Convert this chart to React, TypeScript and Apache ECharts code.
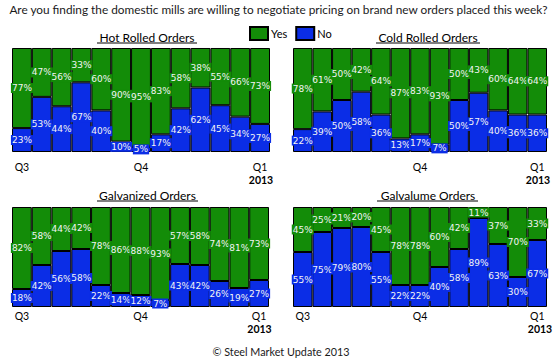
import React, { useEffect, useRef } from "react";
import * as echarts from "echarts";

const weeks = ["W1", "W2", "W3", "W4", "W5", "W6", "W7", "W8", "W9", "W10", "W11", "W12", "W13"];
const ticksFull = ["Q3", "", "", "", "", "", "Q4", "", "", "", "", "", "Q1"];
const ticksNoQ3 = ["", "", "", "", "", "", "Q4", "", "", "", "", "", "Q1"];

const hotYes = [77, 47, 56, 33, 60, 90, 95, 83, 58, 38, 55, 66, 73];
const hotNo = [23, 53, 44, 67, 40, 10, 5, 17, 42, 62, 45, 34, 27];
const coldYes = [78, 61, 50, 42, 64, 87, 83, 93, 50, 43, 60, 64, 64];
const coldNo = [22, 39, 50, 58, 36, 13, 17, 7, 50, 57, 40, 36, 36];
const galvYes = [82, 58, 44, 42, 78, 86, 88, 93, 57, 58, 74, 81, 73];
const galvNo = [18, 42, 56, 58, 22, 14, 12, 7, 43, 42, 26, 19, 27];
const galvalumeYes = [45, 25, 21, 20, 45, 78, 78, 60, 42, 11, 37, 70, 33];
const galvalumeNo = [55, 75, 79, 80, 55, 22, 22, 40, 58, 89, 63, 30, 67];

const GREEN = "#138c08";
const BLUE = "#0b2de6";
const FONT = "Lato";

const panels = [
  { title: "Hot Rolled Orders", yes: hotYes, no: hotNo, ticks: ticksFull, grid: { left: 12, top: 48, width: 258, height: 104 }, margin: 9, cx: 147, ty: 37, ul: [97, 197, 43], yr: [261, 180] },
  { title: "Cold Rolled Orders", yes: coldYes, no: coldNo, ticks: ticksNoQ3, grid: { left: 293, top: 48, width: 254, height: 104 }, margin: 9, cx: 428, ty: 37, ul: [376, 480, 43], yr: [538, 180] },
  { title: "Galvanized Orders", yes: galvYes, no: galvNo, ticks: ticksFull, grid: { left: 12, top: 207, width: 257, height: 100 }, margin: 3, cx: 147.5, ty: 195, ul: [97, 198, 201], yr: [259.5, 329] },
  { title: "Galvalume Orders", yes: galvalumeYes, no: galvalumeNo, ticks: ticksFull, grid: { left: 293, top: 207, width: 254, height: 100 }, margin: 3, cx: 428, ty: 195, ul: [377, 478, 201], yr: [540, 329] },
];

export default function App() {
  const ref = useRef<HTMLDivElement>(null);
  useEffect(() => {
    if (!ref.current) return;
    const chart = echarts.init(ref.current, null, { renderer: "svg" });
    const label = (bg: string) => ({
      show: true,
      position: "inside",
      formatter: "{c}%",
      color: "#f4f4f4",
      fontFamily: "DejaVu Sans",
      fontSize: 9,
      backgroundColor: bg,
      padding: [1, 1, 0, 1],
    });
    const series: any[] = [];
    panels.forEach((p, i) => {
      series.push({
        name: "No",
        type: "bar",
        stack: "s" + i,
        xAxisIndex: i,
        yAxisIndex: i,
        data: p.no,
        barCategoryGap: 0,
        itemStyle: { color: BLUE, borderColor: "#000", borderWidth: 1 },
        label: label(BLUE),
      });
      series.push({
        name: "Yes",
        type: "bar",
        stack: "s" + i,
        xAxisIndex: i,
        yAxisIndex: i,
        data: p.yes,
        barCategoryGap: 0,
        itemStyle: { color: GREEN, borderColor: "#000", borderWidth: 1 },
        label: label(GREEN),
      });
    });
    const graphics: any[] = [
      {
        type: "text",
        x: 278.5,
        y: 9,
        style: {
          text: "Are you finding the domestic mills are willing to negotiate pricing on brand new orders placed this week?",
          font: `11.8px ${FONT}`,
          fill: "#1a1a1a",
          align: "center",
          verticalAlign: "middle",
        },
      },
      {
        type: "text",
        x: 281,
        y: 351,
        style: { text: "© Steel Market Update 2013", font: `10.8px ${FONT}`, fill: "#1a1a1a", align: "center", verticalAlign: "middle" },
      },
    ];
    panels.forEach((p) => {
      graphics.push({
        type: "text",
        x: p.cx,
        y: p.ty,
        style: { text: p.title, font: `12px ${FONT}`, fill: "#000", align: "center", verticalAlign: "middle" },
      });
      graphics.push({
        type: "line",
        shape: { x1: p.ul[0], y1: p.ul[2], x2: p.ul[1], y2: p.ul[2] },
        style: { stroke: "#000", lineWidth: 1 },
      });
      graphics.push({
        type: "text",
        x: p.yr[0],
        y: p.yr[1],
        style: { text: "2013", font: `bold 10.5px ${FONT}`, fill: "#000", align: "center", verticalAlign: "middle" },
      });
    });
    chart.setOption({
      animation: false,
      legend: {
        data: ["Yes", "No"],
        left: 244,
        top: 21,
        itemWidth: 18,
        itemHeight: 13,
        itemGap: 8,
        icon: "rect",
        textStyle: { fontFamily: FONT, fontSize: 11, color: "#000", padding: [0, 0, 0, -2] },
      },
      grid: panels.map((p) => ({ ...p.grid })),
      xAxis: panels.map((p, i) => ({
        type: "category",
        gridIndex: i,
        data: weeks,
        axisLine: { show: false },
        axisTick: { show: false },
        axisLabel: {
          interval: 0,
          margin: p.margin,
          fontFamily: FONT,
          fontSize: 10.5,
          color: "#000",
          formatter: (_v: string, idx: number) => p.ticks[idx],
        },
      })),
      yAxis: panels.map((_p, i) => ({
        type: "value",
        gridIndex: i,
        min: 0,
        max: 100,
        show: false,
        splitLine: { show: false },
      })),
      series,
      graphic: graphics,
    });
    return () => chart.dispose();
  }, []);
  return <div ref={ref} style={{ width: 557, height: 359, position: "absolute", left: 0, top: 0 }} />;
}
